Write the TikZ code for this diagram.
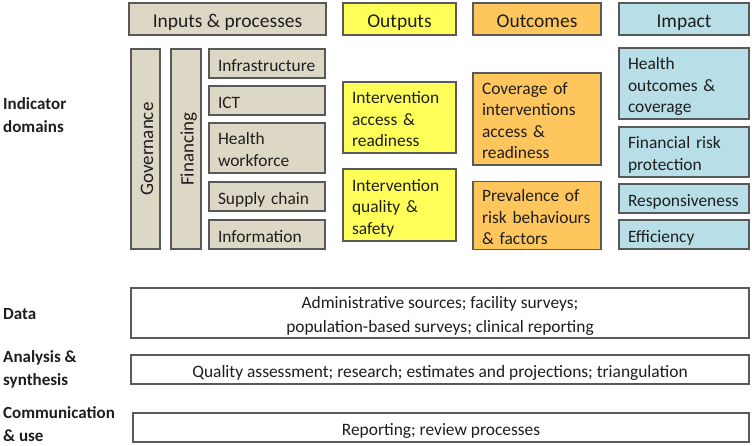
\documentclass[tikz,border=0pt]{standalone}
\usepackage{fontspec}
\setmainfont{Carlito}
\lefthyphenmin=64
\definecolor{tanc}{HTML}{DDD8C5}
\definecolor{yelc}{HTML}{FFFF59}
\definecolor{orac}{HTML}{FFC65E}
\definecolor{bluc}{HTML}{B8DEE8}
\definecolor{bordc}{HTML}{595959}
\definecolor{txtc}{HTML}{1E1E1E}
\newcommand\bodyfont{\fontsize{17.4}{21.5}\selectfont}
\newcommand\datafont{\fontsize{17.4}{23.5}\selectfont}
\newcommand\headfont{\fontsize{19.5}{23}\selectfont}
\newcommand\rotfont{\fontsize{19}{23}\selectfont}
\newcommand\lblfont{\fontsize{17}{23}\selectfont\bfseries}
\newcommand\topstrut{\rule{0pt}{20pt}}
\newcommand\botstrut{\rule[-5pt]{0pt}{5pt}}
\newcommand\htopstrut{\rule{0pt}{22pt}}
\newcommand\hbotstrut{\rule[-6pt]{0pt}{6pt}}
\begin{document}
\begin{tikzpicture}[x=1pt,y=1pt,
  bx/.style={draw=bordc, line width=1.1pt, inner xsep=9pt, inner ysep=0pt, text=txtc,
    execute at begin node=\topstrut, execute at end node=\botstrut},
  hd/.style={draw=bordc, line width=1.1pt, inner xsep=9pt, inner ysep=0pt, text=txtc,
    execute at begin node=\htopstrut, execute at end node=\hbotstrut,
    font=\headfont, minimum height=32pt, align=center},
  lb/.style={bx, font=\bodyfont, align=left},
  ct/.style={bx, font=\bodyfont, align=center},
  rt/.style={bx, font=\rotfont, rotate=90, minimum width=200pt, minimum height=29pt, inner sep=0pt},
  plain/.style={inner sep=0pt, text=txtc, align=center},
  side/.style={anchor=west, inner sep=0pt, font=\lblfont, align=left, text=txtc,
    execute at begin node=\topstrut, execute at end node=\botstrut}]
\useasboundingbox (0,0) rectangle (752,-445);
% headers
\node[hd, fill=tanc, minimum width=197pt] (inp) at (227.5,-19) {Inputs \& processes};
\node[hd, fill=yelc, minimum width=113pt] (outp) at (399.5,-19) {Outputs};
\node[hd, fill=orac, minimum width=128pt] (outc) at (537,-19) {Outcomes};
\node[hd, fill=bluc, minimum width=130pt] (imp) at (684,-19) {Impact};
% inputs & processes
\node[rt, fill=tanc] (gov) at (145.5,-149) {Governance};
\node[rt, fill=tanc, minimum height=30pt] (fin) at (186,-149) {Financing};
\node[lb, fill=tanc, text width=98pt, minimum height=29pt] (infra) at (267,-63.5) {Infrastructure};
\node[lb, fill=tanc, text width=98pt, minimum height=29pt] (ict) at (267,-100.5) {ICT};
\node[lb, fill=tanc, text width=98pt, minimum height=50pt] (hw) at (267,-148) {Health\\workforce};
\node[lb, fill=tanc, text width=98pt, minimum height=29pt] (sc) at (267,-196.5) {Supply chain};
\node[lb, fill=tanc, text width=98pt, minimum height=29pt] (info) at (267,-234.5) {Information};
% outputs
\node[lb, fill=yelc, text width=95pt, minimum height=71pt] (ia) at (399.5,-117.5) {Intervention\\access \&\\readiness};
\node[lb, fill=yelc, text width=95pt, minimum height=72pt] (iq) at (399.5,-205) {Intervention\\quality \&\\safety};
% outcomes
\node[lb, fill=orac, text width=110pt, minimum height=92pt] (cov) at (537,-119) {Coverage of\\interventions\\access \&\\readiness};
\node[lb, fill=orac, text width=110pt, minimum height=63pt] (prev) at (537,-215.5) {Prevalence of\\risk behaviours\\\& factors};
% impact
\node[lb, fill=bluc, text width=112pt, minimum height=71pt] (ho) at (684,-83.5) {Health\\outcomes \&\\coverage};
\node[lb, fill=bluc, text width=112pt, minimum height=50pt] (fr) at (684,-152) {Financial risk\\protection};
\node[lb, fill=bluc, text width=112pt, minimum height=29pt] (resp) at (684,-198.5) {Responsiveness};
\node[lb, fill=bluc, text width=112pt, minimum height=29pt] (eff) at (684,-234.5) {Efficiency};
% bottom rows
\node[ct, fill=white, minimum width=618pt, minimum height=50pt] (data) at (440,-313) {};
\node[plain, font=\datafont] (datat) at ([yshift=-3pt]data.center) {Administrative sources; facility surveys;\\population-based surveys; clinical reporting};
\node[ct, fill=white, minimum width=618pt, minimum height=29pt] (anal) at (440,-369.5) {Quality assessment; research; estimates and projections; triangulation};
\node[ct, fill=white, minimum width=616pt, minimum height=29pt] (rep) at (441,-427.5) {Reporting; review processes};
% side labels
\node[side] (l1) at (3,-118) {Indicator\\domains};
\node[side] (l2) at (3,-312) {Data};
\node[side] (l3) at (3,-371) {Analysis \&\\synthesis};
\node[side] (l4) at (3,-427) {Communication\\\& use};
\end{tikzpicture}
\end{document}
